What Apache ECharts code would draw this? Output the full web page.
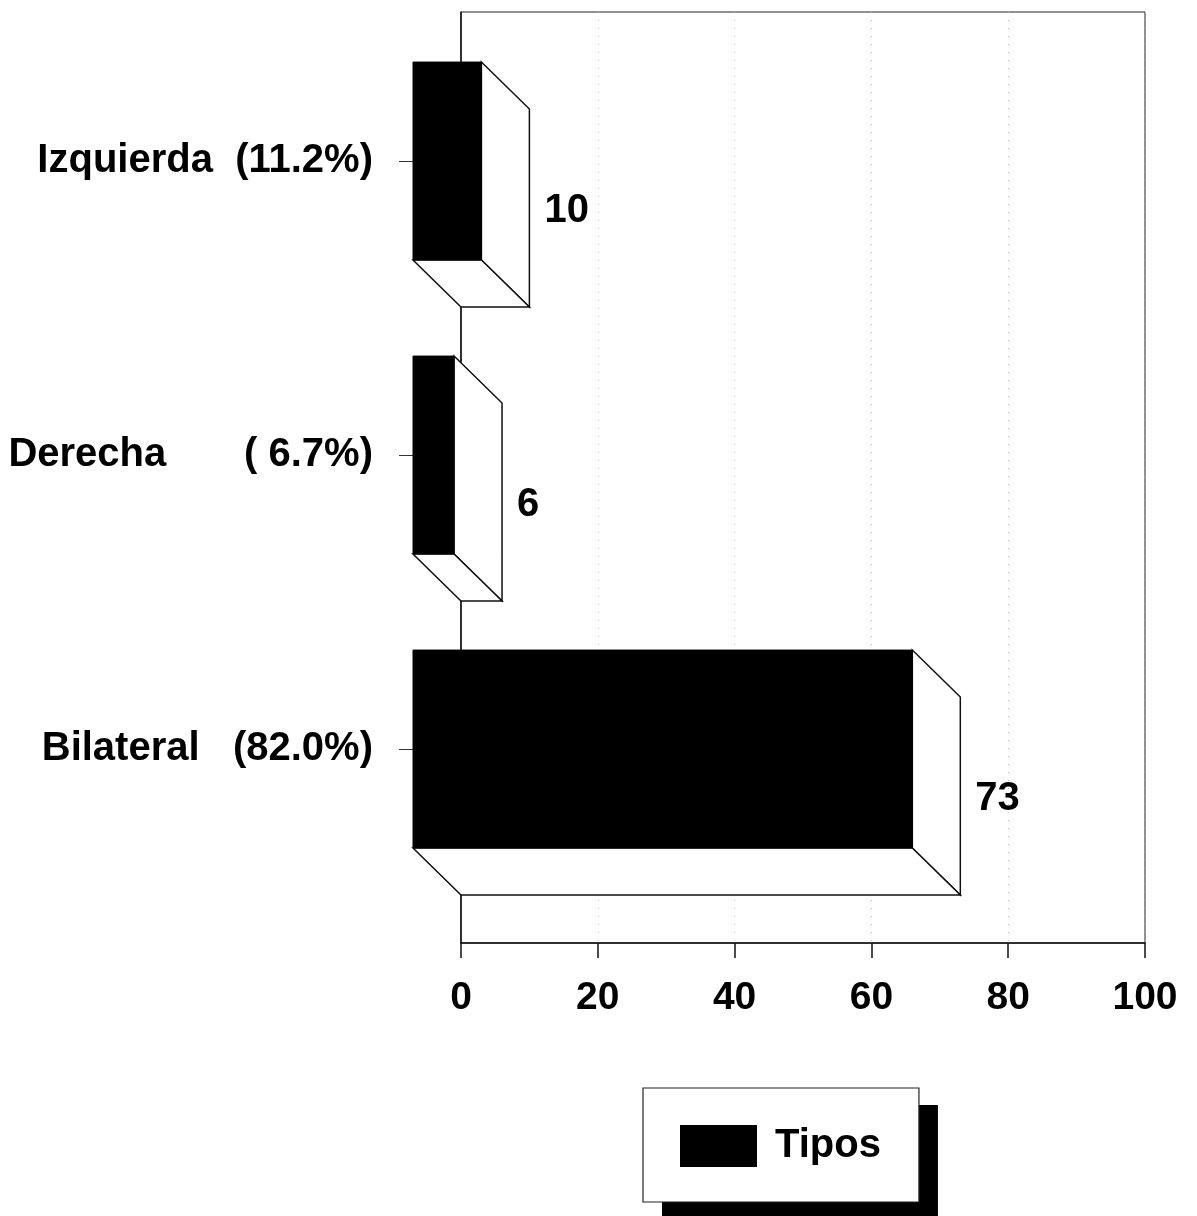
<!DOCTYPE html>
<html>
<head>
<meta charset="utf-8">
<title>Tipos</title>
<script src="https://cdn.jsdelivr.net/npm/echarts@6/dist/echarts.min.js"></script>
<style>
  html, body { margin: 0; padding: 0; background: #fff; }
  #chart { width: 1197px; height: 1216px; }
</style>
</head>
<body>
<div id="chart"></div>
<script>
// Category tick labels (name plus share), top to bottom
const categoryLabels = ['Izquierda  (11.2%)', 'Derecha       ( 6.7%)', 'Bilateral   (82.0%)'];
// Counts per category
const values = [10, 6, 73];
const seriesName = 'Tipos';
// Value axis range and step
const xMin = 0;
const xMax = 100;
const xStep = 20;

const FONT = '"Liberation Sans", Arial, Helvetica, sans-serif';
// Depth of the extruded bars (pixels to the right and downwards)
const DEPTH_X = 48;
const DEPTH_Y = 47;
// Bar thickness as a share of the category band
const BAR_RATIO = 0.673;

function renderBar(params, api) {
  const v = api.value(0);
  const c = api.value(1);
  const base = api.coord([0, c]);
  const tip = api.coord([v, c]);
  const h = api.size([0, 1])[1] * BAR_RATIO;
  const x0 = base[0], x1 = tip[0];
  const yT = base[1] - h / 2, yB = base[1] + h / 2;
  const dx = DEPTH_X, dy = DEPTH_Y;
  const edge = () => ({ fill: '#fff', stroke: '#111', lineWidth: 1.5 });
  return {
    type: 'group',
    children: [
      { // right side face
        type: 'polygon',
        shape: { points: [[x1, yT], [x1 + dx, yT + dy], [x1 + dx, yB + dy], [x1, yB]] },
        style: edge()
      },
      { // bottom face
        type: 'polygon',
        shape: { points: [[x0, yB], [x1, yB], [x1 + dx, yB + dy], [x0 + dx, yB + dy]] },
        style: edge()
      },
      { // front face
        type: 'rect',
        shape: { x: x0, y: yT, width: x1 - x0, height: h },
        style: { fill: '#000', stroke: '#000', lineWidth: 1 }
      },
      { // value label beside the back face
        type: 'text',
        style: {
          text: String(v),
          x: x1 + dx + 15,
          y: base[1] + dy + 3,
          align: 'left',
          verticalAlign: 'middle',
          fill: '#000',
          font: 'bold 40px ' + FONT
        }
      }
    ]
  };
}

// Shared legend layout; the first copy is a solid black drop shadow
const legendBase = {
  show: true,
  orient: 'horizontal',
  padding: [37, 38, 35, 37],
  itemWidth: 77, itemHeight: 42,
  data: [{ name: seriesName, icon: 'rect' }],
  itemStyle: { borderWidth: 0 },
  textStyle: {
    color: '#000', fontSize: 40, fontWeight: 'bold', fontFamily: FONT,
    padding: [0, 0, 0, 13]
  },
  selectedMode: false
};

const chart = echarts.init(document.getElementById('chart'), null, { renderer: 'canvas' });

chart.setOption({
  backgroundColor: '#fff',
  animation: false,
  textStyle: { fontFamily: FONT },
  grid: [
    { // front plane: category axis and bar fronts
      left: 413, top: 14, width: 684, height: 882, containLabel: false
    },
    { // back wall with the value axis
      left: 461, top: 12, width: 684, height: 931, containLabel: false,
      show: true, borderColor: '#222', borderWidth: 1, backgroundColor: 'transparent'
    }
  ],
  xAxis: [
    { gridIndex: 0, type: 'value', min: xMin, max: xMax, interval: xStep, show: false },
    {
      gridIndex: 1, type: 'value', min: xMin, max: xMax, interval: xStep,
      axisLine: { show: true, onZero: false, lineStyle: { color: '#111', width: 1.5 } },
      axisTick: { show: true, length: 15, lineStyle: { color: '#111', width: 1.5 } },
      axisLabel: {
        show: true, margin: 36, color: '#000',
        fontSize: 39, fontWeight: 'bold', fontFamily: FONT
      },
      splitLine: { show: true, lineStyle: { color: '#bbb', width: 1, type: [1, 7] } }
    }
  ],
  yAxis: [
    {
      gridIndex: 0, type: 'category', inverse: true, data: categoryLabels,
      axisLine: { show: false },
      axisTick: { show: true, length: 14, alignWithLabel: true, lineStyle: { color: '#333', width: 1 } },
      axisLabel: {
        show: true, margin: 40, color: '#000',
        fontSize: 40, fontWeight: 'bold', fontFamily: FONT
      },
      splitLine: { show: false }
    },
    {
      gridIndex: 1, type: 'value', min: 0, max: 1,
      axisLine: { show: true, onZero: false, lineStyle: { color: '#111', width: 1.5 } },
      axisTick: { show: false },
      axisLabel: { show: false },
      splitLine: { show: false }
    }
  ],
  legend: [
    Object.assign({}, legendBase, {
      left: 662, top: 1105, z: 3,
      backgroundColor: '#000', borderWidth: 0
    }),
    Object.assign({}, legendBase, {
      left: 643, top: 1088, z: 4,
      backgroundColor: '#fff', borderColor: '#222', borderWidth: 1.2
    })
  ],
  series: [
    {
      name: seriesName,
      type: 'custom',
      coordinateSystem: 'cartesian2d',
      xAxisIndex: 0, yAxisIndex: 0,
      clip: false,
      itemStyle: { color: '#000' },
      encode: { x: 0, y: 1 },
      data: values.map((v, i) => [v, i]),
      renderItem: renderBar
    }
  ]
});
</script>
</body>
</html>
